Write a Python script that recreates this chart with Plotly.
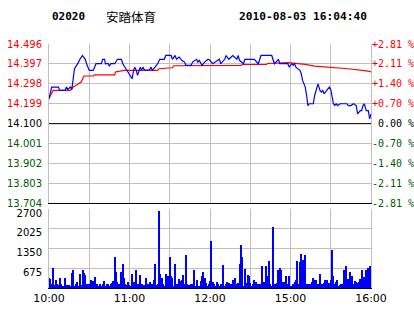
import plotly.graph_objects as go

# ---------------- data ----------------
stock_code = "02020"
stock_name = "安踏体育"
timestamp = "2010-08-03 16:04:40"
prev_close = 14.100

# price line key points (minutes from 10:00 in trading time, price)
price_min = [0, 2, 7, 8, 12, 13, 14, 16, 17, 18, 19, 22, 23, 25, 27, 28, 30, 33, 35, 39,
             40, 41.5, 42, 44, 45, 46, 49, 51, 54, 55, 58, 60, 62, 63, 64, 65, 66, 68, 69, 70,
             71, 72, 75, 76, 77, 79, 81, 82.5, 86, 87, 91, 92, 94, 95, 97, 99, 101, 102, 106, 107,
             110, 111, 112, 114, 116, 118.5, 120, 121, 122, 127, 128, 131, 132, 134, 137, 140, 141, 142, 145, 146,
             153, 156, 158, 166, 167, 168, 171, 172, 178, 179, 181, 182, 183, 184, 187, 188, 189, 191, 192, 193,
             194, 197, 198, 199, 200.5, 202, 203, 204, 205, 207, 209, 210, 212, 213, 214, 215, 217, 222, 223, 225,
             227, 229, 230, 232, 233, 234, 235, 236.5, 238, 239, 240]
price_val = [14.224, 14.282, 14.282, 14.265, 14.265, 14.282, 14.270, 14.282, 14.270, 14.340,
             14.373, 14.406, 14.420, 14.439, 14.420, 14.398, 14.365, 14.365, 14.398, 14.398,
             14.420, 14.420, 14.398, 14.400, 14.385, 14.398, 14.398, 14.420, 14.420, 14.398,
             14.365, 14.340, 14.323, 14.365, 14.381, 14.365, 14.340, 14.381, 14.365, 14.381,
             14.368, 14.365, 14.368, 14.381, 14.365, 14.381, 14.398, 14.420, 14.420, 14.439,
             14.439, 14.420, 14.439, 14.420, 14.431, 14.415, 14.406, 14.390, 14.390, 14.406,
             14.420, 14.406, 14.415, 14.390, 14.406, 14.420, 14.415, 14.406, 14.398, 14.420,
             14.398, 14.420, 14.439, 14.420, 14.439, 14.420, 14.439, 14.415, 14.398, 14.420,
             14.420, 14.398, 14.439, 14.439, 14.415, 14.398, 14.420, 14.398, 14.398, 14.381,
             14.398, 14.390, 14.398, 14.381, 14.365, 14.348, 14.315, 14.282, 14.240, 14.190,
             14.199, 14.199, 14.240, 14.265, 14.298, 14.265, 14.257, 14.265, 14.248, 14.265,
             14.282, 14.270, 14.199, 14.190, 14.199, 14.190, 14.199, 14.199, 14.190, 14.190,
             14.199, 14.190, 14.149, 14.165, 14.165, 14.190, 14.199, 14.165, 14.165, 14.124,
             14.149]

# average price line key points
avg_min = [0, 3, 16, 18, 20, 24, 26, 33, 34, 49, 49.5, 56, 81, 82, 92, 93, 143, 144, 162, 163,
           178, 191, 198, 210, 223, 238, 240]
avg_val = [14.224, 14.265, 14.265, 14.282, 14.290, 14.307, 14.337, 14.337, 14.343, 14.343,
           14.357, 14.365, 14.365, 14.373, 14.378, 14.388, 14.390, 14.394, 14.394, 14.399,
           14.403, 14.395, 14.386, 14.381, 14.373, 14.361, 14.357]

# per-minute volume (minute 0..240)
volume = [342, 285, 137, 660, 100, 273, 137, 90, 342, 114, 57, 57, 342, 80, 80, 80, 46, 512, 615, 68,
          137, 205, 57, 455, 80, 592, 490, 421, 114, 114, 114, 250, 160, 228, 364, 137, 137, 68, 137, 68,
          137, 228, 68, 114, 114, 68, 114, 160, 228, 1070, 524, 205, 137, 137, 547, 797, 319, 137, 91, 205,
          91, 57, 455, 205, 46, 592, 114, 137, 432, 137, 68, 91, 319, 114, 137, 205, 68, 114, 250, 797,
          91, 114, 2642, 455, 319, 137, 57, 455, 68, 387, 1070, 398, 319, 68, 797, 114, 114, 285, 228, 250,
          432, 114, 1116, 114, 91, 91, 114, 137, 592, 68, 250, 68, 68, 228, 387, 524, 319, 160, 68, 137,
          228, 1617, 205, 114, 68, 182, 114, 68, 137, 137, 763, 68, 114, 205, 160, 114, 114, 250, 205, 319,
          137, 160, 820, 1480, 1070, 68, 626, 160, 421, 410, 160, 57, 114, 273, 205, 68, 114, 114, 68, 729,
          205, 68, 729, 387, 911, 114, 68, 2096, 137, 114, 160, 615, 660, 592, 182, 182, 182, 410, 114, 410,
          68, 68, 114, 205, 273, 911, 114, 866, 1139, 934, 114, 1116, 114, 114, 114, 114, 182, 342, 273, 273,
          114, 137, 455, 114, 114, 160, 273, 250, 91, 160, 250, 1298, 387, 114, 205, 273, 68, 91, 114, 137,
          592, 729, 250, 296, 547, 160, 410, 137, 228, 205, 160, 205, 296, 592, 114, 364, 592, 182, 660, 752,
          752]

price_ticks = [13.704, 13.803, 13.902, 14.001, 14.100, 14.199, 14.298, 14.397, 14.496]
vol_ticks = [675, 1350, 2025, 2700]
time_ticks = [0, 30, 60, 90, 120, 150, 180, 210, 240]
time_labels = ["10:00", "", "11:00", "", "12:00", "", "15:00", "", "16:00"]

# ---------------- styling ----------------
RED = "#ff0000"
GREEN = "#005a00"
GRID = "#c0c0c0"


def color_for(p):
    if p > prev_close + 1e-9:
        return RED
    if p < prev_close - 1e-9:
        return GREEN
    return "#000000"


left_text = ['<span style="color:%s">%.3f</span>' % (color_for(p), p) for p in price_ticks]
right_text = []
for p in price_ticks:
    pct = (p - prev_close) / prev_close * 100
    if pct > 1e-9:
        s = "+%.2f\u00a0%%" % pct
    elif pct < -1e-9:
        s = "-%.2f\u00a0%%" % abs(pct)
    else:
        s = "\u00a0%.2f\u00a0%%" % 0.0
    right_text.append('<span style="color:%s">%s</span>' % (color_for(p), s))

fig = go.Figure()

fig.add_trace(go.Scatter(x=[0, 240], y=[prev_close, prev_close], mode="lines",
                         line=dict(color="black", width=1), xaxis="x", yaxis="y",
                         hoverinfo="skip", showlegend=False))
fig.add_trace(go.Scatter(x=avg_min, y=avg_val, mode="lines",
                         line=dict(color=RED, width=1.2), xaxis="x", yaxis="y", showlegend=False))
fig.add_trace(go.Scatter(x=price_min, y=price_val, mode="lines",
                         line=dict(color="#0000ff", width=1.2), xaxis="x", yaxis="y", showlegend=False))
# invisible trace for right percent axis
fig.add_trace(go.Scatter(x=[0], y=[prev_close], mode="markers", marker=dict(opacity=0),
                         xaxis="x", yaxis="y3", hoverinfo="skip", showlegend=False))

fig.add_trace(go.Bar(x=list(range(len(volume))), y=volume, width=0.75,
                     marker=dict(color="#0000ff", line=dict(width=0)),
                     xaxis="x2", yaxis="y2", showlegend=False))

tick_font = dict(family="DejaVu Sans", size=10, color="black")

fig.update_layout(
    width=414, height=314,
    margin=dict(l=49, r=43, t=44, b=26, autoexpand=False),
    paper_bgcolor="white", plot_bgcolor="white",
    bargap=0,
    xaxis=dict(domain=[0, 1], anchor="y", range=[0, 240], tickvals=time_ticks,
               showticklabels=False, showgrid=True, gridcolor=GRID, gridwidth=1,
               showline=True, linecolor="black", linewidth=1, zeroline=False, ticks="",
               automargin=False),
    yaxis=dict(domain=[0.347, 1], anchor="x", range=[13.704, 14.496], tickvals=price_ticks,
               ticktext=left_text, showgrid=True, gridcolor=GRID, gridwidth=1,
               showline=True, linecolor=GRID, linewidth=1, mirror=True, zeroline=False,
               ticks="", tickfont=tick_font, ticklabelstandoff=4, automargin=False),
    yaxis3=dict(overlaying="y", side="right", anchor="x", range=[13.704, 14.496],
                tickvals=price_ticks, ticktext=right_text, showgrid=False, zeroline=False,
                showline=False, ticks="", ticklabelstandoff=0, automargin=False,
                tickfont=dict(family="DejaVu Sans Mono", size=10, color="black")),
    xaxis2=dict(domain=[0, 1], anchor="y2", range=[0, 240], tickvals=time_ticks,
                ticktext=time_labels, showgrid=True, gridcolor=GRID, gridwidth=1,
                showline=True, linecolor="black", linewidth=1, zeroline=False, ticks="",
                tickfont=dict(family="DejaVu Sans", size=11, color="black"), tickangle=0,
                automargin=False),
    yaxis2=dict(domain=[0, 0.3225], anchor="x2", range=[0, 2700], tickvals=vol_ticks,
                showgrid=True, gridcolor=GRID, gridwidth=1, showline=True, linecolor=GRID,
                linewidth=1, mirror=True, zeroline=False, ticks="", tickfont=tick_font,
                ticklabelstandoff=4, ticklabelshift=4, automargin=False),
    annotations=[
        dict(text="<b>%s</b>" % stock_code, xref="paper", yref="paper", x=0.002, y=1.111,
             xanchor="left", yanchor="middle", showarrow=False,
             font=dict(family="DejaVu Sans Mono", size=11, color="black")),
        dict(text=stock_name, xref="paper", yref="paper", x=0.172, y=1.111,
             xanchor="left", yanchor="middle", showarrow=False,
             font=dict(family="Noto Sans CJK SC", size=12.5, color="black")),
        dict(text="<b>%s</b>" % timestamp, xref="paper", yref="paper", x=0.584, y=1.111,
             xanchor="left", yanchor="middle", showarrow=False,
             font=dict(family="DejaVu Sans Mono", size=11.2, color="black")),
    ],
)

fig.write_html("out.html")
